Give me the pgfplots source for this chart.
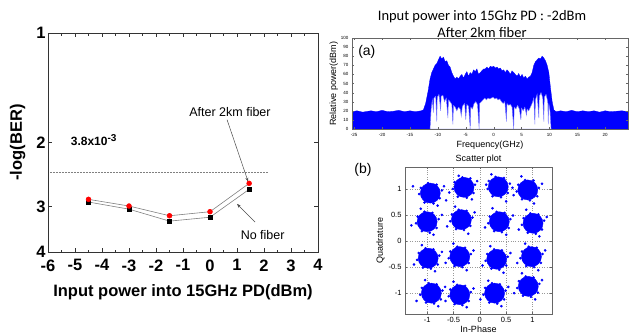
\documentclass[border=0pt]{standalone}
\usepackage{fontspec}
\setmainfont{Liberation Sans}
\newfontfamily\calfont{Carlito}
\usepackage{pgfplots}
\pgfplotsset{compat=1.18}
\usetikzlibrary{arrows.meta}
\begin{document}
\begin{tikzpicture}
\path[use as bounding box] (0pt,0pt) rectangle (629pt,333pt);
% ---------------- left: BER ----------------
\begin{axis}[at={(48pt,81pt)}, anchor=south west, scale only axis,
  width=270pt, height=219pt,
  xmin=-6, xmax=4, ymin=1, ymax=4, ymode=log, y dir=reverse,
  xtick={-6,-5,-4,-3,-2,-1,0,1,2,3,4},
  xticklabels={-6,-5,-4,-3,-2,-1,0,1,2,3,4},
  minor x tick num=1,
  ytick={1,2,3,4}, yticklabels={1,2,3,4}, minor ytick={},
  ticklabel style={font=\bfseries\fontsize{16.5}{16.5}\selectfont},
  xticklabel style={yshift=-4pt},
  yticklabel style={xshift=1pt},
  xlabel={Input power into 15GHz PD(dBm)},
  ylabel={-log(BER)},
  label style={font=\bfseries\fontsize{16.5}{17}\selectfont},
  xlabel style={yshift=-6pt},
  ylabel style={yshift=4pt},
  tick align=inside, major tick length=4pt, minor tick length=2.5pt,
  axis line style={black!80}, tick style={black!80},
  clip=false]
\addplot[gray, dash pattern=on 2pt off 1pt, line width=0.5pt] coordinates {(-5.93,2.42)(2.15,2.42)};
\addplot[gray, line width=0.6pt, mark=square*, mark size=2.2pt, mark options={black, solid}]
  coordinates {(-4.5,2.915)(-3,3.05)(-1.5,3.29)(0,3.21)(1.45,2.69)};
\addplot[gray, line width=0.6pt, mark=*, mark size=2.4pt, mark options={red, solid}]
  coordinates {(-4.5,2.866)(-3,2.99)(-1.5,3.18)(0,3.10)(1.45,2.59)};
\node[font=\bfseries\fontsize{12}{12}\selectfont] at (axis cs:-4.3,1.97) {3.8x10\textsuperscript{\fontsize{10}{10}\selectfont -3}};
\node[font=\fontsize{12.5}{13}\selectfont] at (axis cs:0.74,1.65) {After 2km fiber};
\draw[-{Stealth[length=4pt,width=3pt]}, black!70, line width=0.5pt] (axis cs:0.63,1.73) -- (axis cs:1.41,2.56);
\node[font=\fontsize{12.5}{13}\selectfont] at (axis cs:1.95,3.59) {No fiber};
\draw[-{Stealth[length=4pt,width=3pt]}, black!70, line width=0.5pt] (axis cs:1.67,3.31) -- (axis cs:1.0,2.95);
\end{axis}
% ---------------- top right: spectrum ----------------
\node[align=center, font=\calfont\fontsize{14.5}{17}\selectfont] at (482pt,309pt) {Input power into 15Ghz PD : -2dBm\\After 2km fiber};
\begin{axis}[at={(352pt,204pt)}, anchor=south west, scale only axis,
  width=276pt, height=91pt,
  xmin=-25.4, xmax=24.1, ymin=0, ymax=100,
  xtick={-25,-20,-15,-10,-5,0,5,10,15,20},
  xticklabels={-25,-20,-15,-10,-5,0,5,10,15,20},
  ytick={0,10,20,30,40,50,60,70,80,90,100},
  yticklabels={0,10,20,30,40,50,60,70,80,90,100},
  ticklabel style={font=\fontsize{4.5}{5}\selectfont},
  xticklabel style={yshift=-1pt},
  xlabel={Frequency(GHz)}, ylabel={Relative power(dBm)},
  label style={font=\fontsize{9}{9}\selectfont},
  xlabel style={yshift=3pt}, ylabel style={yshift=-4pt},
  tick align=inside, major tick length=2pt, axis on top,
  axis line style={black!60}, tick style={black!60}]
\addplot[blue, fill=blue, line width=0.3pt] coordinates {
(-25.4,19)(-24.5,20)(-23.5,18.5)(-22,20)(-21,19)(-20,20.5)(-19,19)(-18,19.5)(-17,20.5)(-16,19)(-15,20)(-14,19)(-13,20)(-12.6,21)
(-12.2,28)(-11.8,40)(-11.4,55)(-11.1,62)(-10.8,66)(-10.5,70)(-10.2,72)(-9.9,76)(-9.6,80)(-9.3,77)(-9.0,79)(-8.7,74)(-8.4,75)(-8.1,70)(-7.8,68)(-7.5,62)(-7.2,58)(-6.9,55)(-6.6,57)(-6.3,55)(-6.0,58)(-5.7,60)(-5.4,56)(-5.1,60)(-4.8,63)(-4.5,58)(-4.2,62)(-3.9,60)(-3.6,65)(-3.3,63)(-3.0,66)(-2.7,60)(-2.4,62)(-2.1,64)(-1.8,66)(-1.5,66)(-1.2,68)(-0.9,66)(-0.6,69)(-0.3,68)(0,69)(0.3,67)(0.6,68)(0.9,66)(1.2,67)(1.5,64)(1.8,65)(2.1,62)(2.4,65)(2.7,63)(3.0,60)(3.3,64)(3.6,62)(3.9,60)(4.2,58)(4.5,61)(4.8,57)(5.1,60)(5.4,56)(5.7,58)(6.0,55)(6.3,57)(6.6,58)(6.9,62)(7.2,70)(7.5,74)(7.8,76)(8.1,78)(8.4,77)(8.7,80)(9.0,78)(9.3,75)(9.6,70)(9.9,62)(10.2,45)(10.5,30)(10.8,21)
(11.2,19)(12,20)(13,19)(14,20.5)(15,19)(16,20)(17,19)(18,20)(19,18.5)(20,20)(21,19)(22,19.5)(23,20)(24.1,19)} \closedcycle;
\addplot[draw=blue!55, fill=white, line width=0.4pt] coordinates {
(-11.4,0)(-11.2,22)(-11.0,32)(-10.8,18)(-10.7,34)(-10.4,36)(-10.2,8)(-10.1,35)(-9.8,38)(-9.5,20)(-9.4,36)(-9.1,37)(-8.8,30)(-8.5,34)(-8.2,12)(-8.1,32)(-7.8,30)(-7.5,27)(-7.3,5)(-7.2,26)(-6.9,24)(-6.6,20)(-6.3,24)(-6.0,22)(-5.8,14)(-5.6,25)(-5.2,28)(-5.0,10)(-4.8,27)(-4.5,25)(-4.2,0)(-4.1,24)(-3.8,22)(-3.5,28)(-3.2,30)(-2.9,27)(-2.6,0)(-2.5,28)(-2.2,30)(-1.9,32)(-1.6,34)(-1.3,32)(-1.0,34)(-0.7,33)(-0.4,34)(-0.1,35)(0.2,33)(0.5,34)(0.8,32)(1.1,33)(1.4,30)(1.7,28)(2.0,30)(2.3,8)(2.4,28)(2.7,26)(3.0,27)(3.3,24)(3.6,0)(3.7,24)(4.0,22)(4.3,26)(4.6,22)(4.9,10)(5.0,23)(5.3,20)(5.6,24)(5.9,15)(6.0,22)(6.3,20)(6.6,24)(6.9,28)(7.2,34)(7.4,5)(7.5,32)(7.8,38)(8.1,12)(8.2,36)(8.5,40)(8.8,34)(9.0,8)(9.1,35)(9.4,38)(9.7,30)(9.8,5)(9.9,28)(10.1,20)(10.3,0)} \closedcycle;
\node[font=\fontsize{14}{14}\selectfont, anchor=west] at (rel axis cs:0.01,0.85) {(a)};
\end{axis}
% ---------------- bottom right: scatter ----------------
\node[font=\fontsize{14}{14}\selectfont] at (363pt,163pt) {(b)};
\begin{axis}[at={(405pt,19pt)}, anchor=south west, scale only axis,
  width=147pt, height=147pt,
  xmin=-1.42, xmax=1.37, ymin=-1.4, ymax=1.42,
  xtick={-1,-0.5,0,0.5,1}, xticklabels={-1,-0.5,0,0.5,1},
  ytick={-1,-0.5,0,0.5,1}, yticklabels={-1,-0.5,0,0.5,1},
  grid=major, grid style={dotted, gray!80},
  ticklabel style={font=\fontsize{7.5}{8}\selectfont},
  xlabel={In-Phase}, ylabel={Quadrature},
  label style={font=\fontsize{9}{9}\selectfont},
  xlabel style={yshift=4pt}, ylabel style={yshift=-3pt},
  title={Scatter plot}, title style={font=\fontsize{9}{9}\selectfont, yshift=-6pt},
  tick align=inside, major tick length=2pt,
  axis line style={black!60}, tick style={black!60}]
\addplot[only marks, mark=*, mark size=10pt, mark options={draw=blue, fill=blue}] coordinates {
(-0.94,0.92)(-0.30,1.03)(0.35,1.04)(0.91,0.98)
(-1.0,0.37)(-0.35,0.41)(0.37,0.37)(1.01,0.34)
(-0.98,-0.33)(-0.38,-0.30)(0.32,-0.35)(0.98,-0.30)
(-0.92,-1.0)(-0.38,-1.03)(0.28,-1.0)(0.92,-0.87)};
\addplot[only marks, mark=*, mark size=1.1pt, mark options={draw=blue, fill=blue}] coordinates {
(-0.72,0.97)(-0.76,0.82)(-0.88,0.72)(-1.05,0.74)(-1.15,0.90)(-1.12,1.02)(-0.98,1.11)(-0.82,1.08)(-0.68,1.05)(-1.27,1.05)(-0.80,0.68)(-0.64,0.78)
(-0.09,1.08)(-0.12,0.92)(-0.25,0.83)(-0.42,0.85)(-0.51,1.0)(-0.48,1.13)(-0.33,1.22)(-0.18,1.2)(-0.05,1.15)(-0.58,0.93)(-0.15,0.80)(-0.40,1.25)
(0.57,1.1)(0.53,0.92)(0.40,0.84)(0.24,0.86)(0.15,1.0)(0.17,1.15)(0.30,1.23)(0.46,1.21)(0.62,1.02)(0.12,1.08)(0.50,0.76)(0.22,1.28)
(1.12,1.02)(1.09,0.86)(0.95,0.78)(0.80,0.80)(0.70,0.95)(0.73,1.08)(0.86,1.17)(1.02,1.16)(1.18,1.10)(0.64,0.88)(1.03,0.72)(0.79,1.24)
(-0.78,0.42)(-0.82,0.25)(-0.95,0.16)(-1.1,0.19)(-1.21,0.34)(-1.18,0.47)(-1.05,0.56)(-0.9,0.54)(-0.72,0.50)(-1.3,0.30)(-0.88,0.12)(-1.12,0.62)
(-0.14,0.45)(-0.18,0.29)(-0.30,0.21)(-0.45,0.23)(-0.56,0.38)(-0.53,0.51)(-0.40,0.60)(-0.25,0.58)(-0.10,0.55)(-0.62,0.28)(-0.22,0.14)(-0.47,0.66)
(0.58,0.42)(0.55,0.25)(0.42,0.17)(0.27,0.19)(0.16,0.34)(0.19,0.47)(0.32,0.56)(0.47,0.54)(0.63,0.49)(0.10,0.26)(0.50,0.12)(0.24,0.63)
(1.22,0.39)(1.18,0.22)(1.06,0.14)(0.91,0.16)(0.80,0.31)(0.83,0.44)(0.96,0.53)(1.11,0.51)(1.27,0.46)(0.74,0.22)(1.13,0.09)(0.88,0.6)
(-0.77,-0.28)(-0.80,-0.45)(-0.93,-0.53)(-1.08,-0.51)(-1.19,-0.36)(-1.16,-0.23)(-1.03,-0.14)(-0.88,-0.16)(-0.72,-0.21)(-1.25,-0.45)(-0.85,-0.58)(-1.1,-0.08)
(-0.17,-0.25)(-0.21,-0.42)(-0.33,-0.50)(-0.48,-0.48)(-0.59,-0.33)(-0.56,-0.20)(-0.43,-0.11)(-0.28,-0.13)(-0.12,-0.18)(-0.65,-0.42)(-0.25,-0.56)(-0.50,-0.05)
(0.53,-0.30)(0.50,-0.47)(0.37,-0.55)(0.22,-0.53)(0.11,-0.38)(0.14,-0.25)(0.27,-0.16)(0.42,-0.18)(0.58,-0.23)(0.05,-0.47)(0.45,-0.61)(0.20,-0.10)
(1.19,-0.25)(1.16,-0.42)(1.03,-0.50)(0.88,-0.48)(0.77,-0.33)(0.80,-0.20)(0.93,-0.11)(1.08,-0.13)(1.24,-0.18)(0.71,-0.42)(1.11,-0.56)(0.86,-0.05)
(-0.71,-0.95)(-0.74,-1.12)(-0.87,-1.20)(-1.02,-1.18)(-1.13,-1.03)(-1.10,-0.90)(-0.97,-0.81)(-0.82,-0.83)(-0.66,-0.88)(-1.2,-1.15)(-0.79,-1.25)(-1.04,-0.75)
(-0.17,-0.98)(-0.21,-1.15)(-0.33,-1.23)(-0.48,-1.21)(-0.59,-1.06)(-0.56,-0.93)(-0.43,-0.84)(-0.28,-0.86)(-0.12,-0.91)(-0.65,-1.15)(-0.25,-1.27)(-0.50,-0.78)
(0.49,-0.95)(0.46,-1.12)(0.33,-1.20)(0.18,-1.18)(0.07,-1.03)(0.10,-0.90)(0.23,-0.81)(0.38,-0.83)(0.54,-0.88)(0.01,-1.12)(0.41,-1.25)(0.16,-0.76)
(1.13,-0.82)(1.10,-0.99)(0.97,-1.07)(0.82,-1.05)(0.71,-0.90)(0.74,-0.77)(0.87,-0.68)(1.02,-0.70)(1.18,-0.75)(0.65,-1.0)(1.05,-1.12)(0.80,-0.62)};
\end{axis}
\end{tikzpicture}
\end{document}
